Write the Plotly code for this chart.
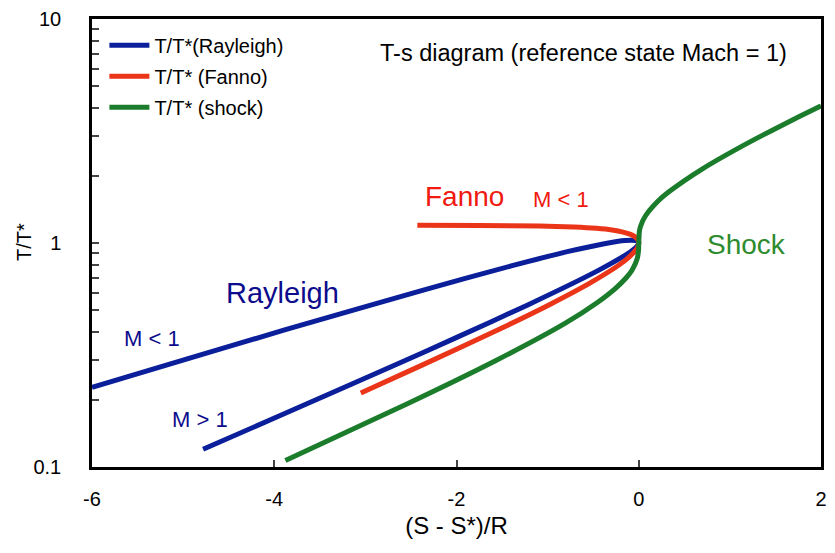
import plotly.graph_objects as go

# Rayleigh line: subsonic branch (M<1) into the tip, then supersonic branch (M>1)
ray_s = [-6.0, -4.955, -3.886, -2.374, -1.40, -0.772, -0.378, -0.147, -0.033, -0.008, 0.0,
         -0.007, -0.026, -0.094, -0.448, -1.218, -1.997, -2.718, -3.96, -4.781]
ray_t = [0.227, 0.304, 0.409, 0.615, 0.790, 0.917, 0.993, 1.0255, 1.0245, 1.015, 1.0,
         0.982, 0.960, 0.912, 0.7525, 0.529, 0.379, 0.280, 0.168, 0.120]

# Fanno line: subsonic branch into the tip, then supersonic branch
fan_s = [-2.43, -1.762, -1.086, -0.711, -0.464, -0.2925, -0.172, -0.090, -0.0375, -0.009, -0.002, 0.0,
         -0.008, -0.030, -0.162, -0.523, -0.970, -1.443, -2.372, -3.05]
fan_t = [1.20, 1.198, 1.1905, 1.179, 1.163, 1.143, 1.119, 1.093, 1.064, 1.033, 1.0165, 1.0,
         0.966, 0.932, 0.828, 0.667, 0.533, 0.4286, 0.2857, 0.214]

# Shock locus
sh_s = [-3.878, -2.545, -1.572, -0.81, -0.450, -0.252, -0.140, -0.074, -0.0165, -0.002, 0.0,
        0.007, 0.021, 0.073, 0.207, 0.327, 0.695, 1.114, 1.547, 1.975, 2.0]
sh_t = [0.107, 0.191, 0.298, 0.4375, 0.544, 0.629, 0.698, 0.756, 0.852, 0.93, 1.0,
        1.128, 1.191, 1.320, 1.532, 1.6875, 2.1375, 2.679, 3.315, 4.047, 4.09]

x_ticks = [-6, -4, -2, 0, 2]
x_tick_text = ["-6", "-4", "-2", "0", "2"]
y_ticks = [0.1, 0.2, 0.3, 0.4, 0.5, 0.6, 0.7, 0.8, 0.9, 1, 2, 3, 4, 5, 6, 7, 8, 9, 10]
y_tick_text = ["0.1"] + [""] * 8 + ["1"] + [""] * 8 + ["10"]

BLUE = "#0b1f9a"
RED = "#ea3519"
GREEN = "#1b7d2b"

fig = go.Figure()
fig.add_trace(go.Scatter(x=ray_s, y=ray_t, mode="lines",
                         line=dict(color=BLUE, width=5, shape="spline", smoothing=0.6),
                         name="T/T*(Rayleigh)", legendgroup="a"))
fig.add_trace(go.Scatter(x=fan_s, y=fan_t, mode="lines",
                         line=dict(color=RED, width=5, shape="spline", smoothing=0.6),
                         name="T/T* (Fanno)", legendgroup="b"))
fig.add_trace(go.Scatter(x=sh_s, y=sh_t, mode="lines",
                         line=dict(color=GREEN, width=5, shape="spline", smoothing=0.6),
                         name="T/T* (shock)", legendgroup="c"))

font_family = "Liberation Sans, Arial, sans-serif"

fig.update_layout(
    width=835, height=553,
    margin=dict(l=92, r=8, t=18, b=86),
    plot_bgcolor="white", paper_bgcolor="white",
    font=dict(family=font_family, size=20, color="black"),
    showlegend=True,
    legend=dict(x=0.017, y=0.985, xanchor="left", yanchor="top",
                bgcolor="rgba(0,0,0,0)", font=dict(size=20),
                tracegroupgap=2, itemwidth=40),
    xaxis=dict(range=[-6, 2], tickvals=x_ticks, ticktext=x_tick_text, ticks="inside", ticklen=7,
               tickwidth=2, showgrid=False, zeroline=False, showline=True, linecolor="black",
               linewidth=2.5, mirror=True, ticklabelstandoff=12,
               title=dict(text="(S - S*)/R", standoff=9)),
    yaxis=dict(type="log", range=[-1, 1], tickvals=y_ticks, ticktext=y_tick_text, ticks="inside",
               ticklen=7, tickwidth=2, showgrid=False, zeroline=False, showline=True,
               linecolor="black", linewidth=2.5, mirror=True, ticklabelstandoff=24),
)

# y-axis title
fig.add_annotation(x=(23 - 92) / 735, y=1 - (242 - 18) / 449, xref="paper", yref="paper",
                   text="T/T*", textangle=-90, showarrow=False, xanchor="center", yanchor="middle",
                   font=dict(size=20, family=font_family, color="black"))

ann = [
    dict(x=588, y=52, text="T-s diagram (reference state Mach = 1)", color="black", size=23.5),
    dict(x=468, y=196, text="Fanno", color="#f01a10", size=28),
    dict(x=565, y=199, text="M < 1", color="#f01a10", size=22),
    dict(x=752, y=244, text="Shock", color="#2e8b2e", size=28),
    dict(x=284, y=293, text="Rayleigh", color="#0c0c8c", size=29),
    dict(x=152, y=338, text="M < 1", color="#0c0c8c", size=22),
    dict(x=201, y=419, text="M > 1", color="#0c0c8c", size=22),
]
for a in ann:
    fig.add_annotation(x=(a["x"] - 92) / 735, y=1 - (a["y"] - 18) / 449, xref="paper", yref="paper",
                       text=a["text"], showarrow=False, xanchor="center", yanchor="middle",
                       font=dict(color=a["color"], size=a["size"], family=font_family))

fig.write_html("out.html")
